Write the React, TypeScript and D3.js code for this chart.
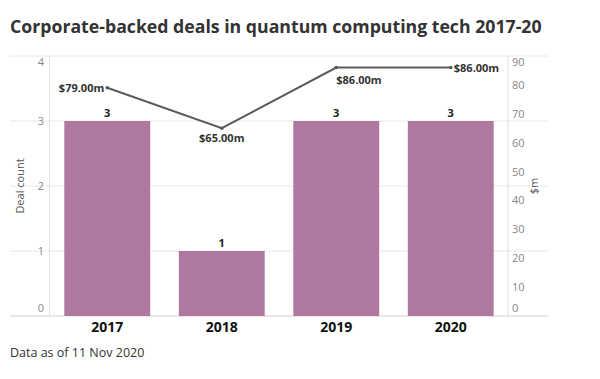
import React from "react";
import * as d3 from "d3";

const years = ["2017", "2018", "2019", "2020"];
const dealCounts = [3, 1, 3, 3];
const dealValues = [79, 65, 86, 86];
const leftTicks = [0, 1, 2, 3, 4];
const rightTicks = [0, 10, 20, 30, 40, 50, 60, 70, 80, 90];

const W = 600, H = 379;
const M = { left: 50, right: 508, top: 56, bottom: 316 };
const FONT = "'Open Sans', 'Noto Sans', sans-serif";

export default function App() {
  const x = d3.scaleBand<string>().domain(years).range([M.left, M.right]).paddingInner(0.25).paddingOuter(0.125);
  const yL = d3.scaleLinear().domain([0, 4]).range([M.bottom, M.top]);
  const yR = d3.scaleLinear().domain([0, 90]).range([M.bottom, M.top]);
  const cx = (d: string) => (x(d) as number) + x.bandwidth() / 2;
  const line = d3.line<number>().x((_, i) => cx(years[i])).y((v) => yR(v));

  const labelPos = (i: number) => {
    const px = cx(years[i]);
    const py = yR(dealValues[i]);
    if (i === 0) return { x: px - 3, y: py + 4, anchor: "end" };
    if (i === dealValues.length - 1) return { x: px + 3, y: py + 4, anchor: "start" };
    if (i === 1) return { x: px, y: py + 14, anchor: "middle" };
    return { x: px, y: py + 16, anchor: "start" };
  };

  return (
    <svg width={W} height={H} style={{ position: "absolute", left: 0, top: 0, background: "#fff" }} fontFamily={FONT}>
      <rect width={W} height={H} fill="#fff" />
      <text x={10} y={33} fontSize={17.7} fontWeight={700} fill="#333">
        Corporate-backed deals in quantum computing tech 2017-20
      </text>
      {leftTicks.map((t) => (
        <line key={"g" + t} x1={10} x2={548} y1={yL(t)} y2={yL(t)} stroke={t === 0 ? "#d0d0d0" : "#e8e8e8"} strokeWidth={1} />
      ))}
      <line x1={M.left - 0.5} x2={M.left - 0.5} y1={M.top} y2={M.bottom} stroke="#e0e0e0" />
      <line x1={M.right} x2={M.right} y1={M.top} y2={M.bottom} stroke="#e0e0e0" />
      {leftTicks.map((t) => {
        let ty = yL(t) + 4;
        if (t === 0) ty = yL(t) - 4;
        if (t === 4) ty = yL(t) + 10;
        return (
          <text key={"lt" + t} x={44} y={ty} fontSize={11} fill="#888" textAnchor="end">{t}</text>
        );
      })}
      {rightTicks.map((t) => {
        let ty = yR(t) + 4;
        if (t === 0) ty = yR(t) - 4;
        if (t === 90) ty = yR(t) + 10;
        return (
          <text key={"rt" + t} x={512} y={ty} fontSize={11} fill="#888" textAnchor="start">{t}</text>
        );
      })}
      <text transform={`translate(24,${(M.top + M.bottom) / 2}) rotate(-90)`} fontSize={11} fill="#555" textAnchor="middle">Deal count</text>
      <text transform={`translate(538,${(M.top + M.bottom) / 2}) rotate(-90)`} fontSize={11} fill="#555" textAnchor="middle">$m</text>
      {years.map((yr, i) => (
        <g key={yr}>
          <rect x={x(yr)} y={yL(dealCounts[i])} width={x.bandwidth()} height={yL(0) - yL(dealCounts[i])} fill="#af789f" />
          <text x={cx(yr)} y={yL(dealCounts[i]) - 4} fontSize={11} fontWeight={700} fill="#222" textAnchor="middle">{dealCounts[i]}</text>
          <text x={cx(yr)} y={332} fontSize={14} fontWeight={700} fill="#111" textAnchor="middle">{yr}</text>
        </g>
      ))}
      <path d={line(dealValues) as string} fill="none" stroke="#5a5a5a" strokeWidth={2} />
      {dealValues.map((v, i) => (
        <circle key={"c" + i} cx={cx(years[i])} cy={yR(v)} r={1.8} fill="#5a5a5a" />
      ))}
      {dealValues.map((v, i) => {
        const p = labelPos(i);
        return (
          <text key={"vl" + i} x={p.x} y={p.y} fontSize={11} fontWeight={700} fill="#333" textAnchor={p.anchor as any}>
            ${v.toFixed(2)}m
          </text>
        );
      })}
      <text x={10} y={357} fontSize={12.5} fill="#333">Data as of 11 Nov 2020</text>
    </svg>
  );
}
